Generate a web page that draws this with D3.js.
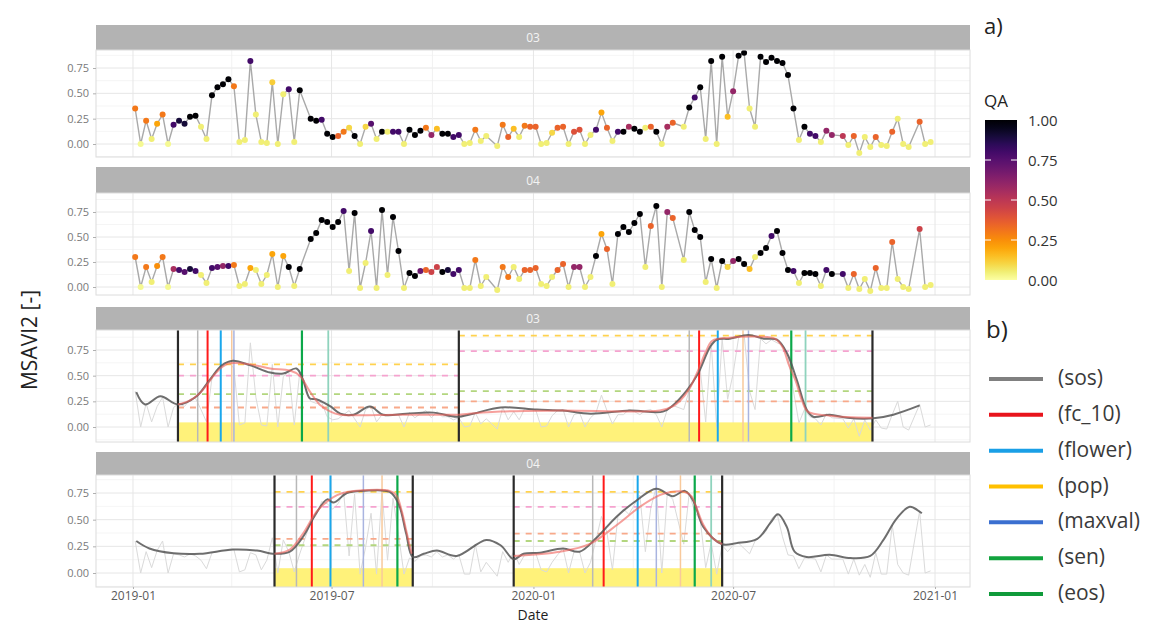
<!DOCTYPE html>
<html>
<head>
<meta charset="utf-8">
<script src="https://cdn.jsdelivr.net/npm/d3@7"></script>
<style>
  body { margin: 0; background: #fff; }
  svg { display: block; font-family: "Open Sans", "DejaVu Sans", sans-serif; }
</style>
</head>
<body>
<svg id="chart" width="1168" height="624"></svg>
<script>
var DAY = 864e5, T0 = Date.UTC(2019, 0, 1);
function day(n) { return new Date(T0 + n * DAY); }

// Sentinel-2 scenes, one slot every 5 days from 2019-01-03 (null = no scene)
var firstObsDay = 2, obsStep = 5;

var msavi03 = [0.35,0.00,0.23,0.05,0.20,0.29,0.00,0.19,0.23,0.20,0.27,0.28,0.17,0.05,0.48,0.56,0.59,0.64,0.57,0.02,
  0.04,0.82,0.29,0.02,0.01,0.61,0.00,0.49,0.54,0.02,0.53,null,0.25,0.23,0.24,0.10,0.07,0.08,0.12,0.16,
  0.08,0.00,0.17,0.20,0.05,0.12,0.12,0.12,0.12,0.00,0.14,0.09,0.13,0.16,0.09,0.15,0.10,0.10,0.07,0.09,
  0.00,0.01,0.14,0.03,0.08,null,-0.02,0.19,0.07,0.15,0.07,0.18,0.17,0.17,0.00,0.01,0.11,0.16,0.17,0.00,
  0.12,0.14,0.00,0.09,0.14,0.31,0.16,0.03,0.12,0.12,0.17,0.15,0.12,0.16,0.17,0.12,0.00,0.17,0.21,null,
  0.17,0.36,0.46,0.56,0.05,0.82,0.00,0.86,0.27,0.52,0.87,0.90,0.35,0.17,0.86,0.81,0.85,0.82,0.80,0.68,
  0.35,0.04,0.17,0.10,0.08,0.02,0.13,0.09,null,0.08,-0.01,0.08,-0.09,0.07,-0.03,0.07,-0.01,-0.02,0.12,0.25,
  0.00,-0.03,null,0.22,0.00,0.02];
var qa03 = [.3,.02,.3,.05,.2,.3,.02,.8,.9,.9,1,1,.05,.05,1,1,1,1,.3,.05,
  .05,.8,.05,.05,.05,.12,.05,.05,.8,.05,1,null,1,1,.8,1,1,.35,.3,.1,
  1,.05,.1,.75,.05,1,.05,.8,.8,.05,1,1,1,.3,.6,.15,1,1,.8,.8,
  .05,.05,.3,.05,.05,null,.05,.3,.35,.15,.05,.3,.35,.35,.05,.05,.1,.35,.35,.05,
  .4,.4,.05,.05,.8,.2,.35,.05,.8,1,.55,1,1,.05,.35,1,.05,.55,.35,null,
  .05,1,.8,1,.05,1,.05,1,.15,.6,1,1,.05,.05,1,1,1,1,1,1,
  1,.05,1,.8,.8,.05,.6,.6,null,.5,.05,.35,.05,.05,.05,.35,.05,.05,.35,.05,
  .05,.05,null,.35,.05,.05];

var msavi04 = [0.30,0.00,0.20,0.05,0.21,0.30,0.00,0.18,0.17,0.15,0.18,0.16,0.12,0.04,0.19,0.20,0.21,0.21,0.22,0.01,
  0.03,0.19,0.17,0.03,0.12,0.33,0.00,0.31,0.20,0.01,0.18,null,0.48,0.54,0.67,0.65,0.60,0.65,0.76,0.16,
  0.74,-0.01,0.24,0.56,-0.01,0.77,0.12,0.70,0.36,-0.01,0.14,0.11,0.16,0.17,0.15,0.20,0.15,0.17,0.13,0.17,
  -0.01,-0.01,0.27,0.01,0.10,null,-0.03,0.20,0.10,0.20,0.08,0.17,0.17,0.19,0.03,0.01,0.10,0.17,0.23,0.00,
  0.20,0.20,0.00,0.10,0.31,0.53,0.38,0.03,0.53,0.60,0.55,0.64,0.73,0.20,0.61,0.81,0.00,0.75,0.69,null,
  0.27,0.75,0.57,0.50,0.05,0.28,-0.01,0.26,0.20,0.26,0.28,0.23,0.18,0.30,0.34,0.39,0.51,0.56,0.34,0.17,
  0.16,0.04,0.14,0.14,0.13,0.01,0.17,0.13,null,0.13,-0.01,0.13,-0.02,0.08,-0.04,0.19,-0.01,-0.01,0.45,0.08,
  0.00,-0.02,null,0.58,0.00,0.02];
var qa04 = [.3,.02,.3,.05,.25,.3,.02,.55,.8,.75,.9,.8,.05,.05,.8,.75,.6,.8,.3,.05,
  .05,.2,.05,.05,.05,.2,.05,.2,1,.05,1,null,1,1,1,1,1,1,.8,.05,
  1,.05,.05,.8,.05,1,.05,1,1,.05,1,1,.7,.35,.45,.45,1,.9,.8,.8,
  .05,.05,.3,.05,.05,null,.05,.3,.3,.05,.05,.35,.35,.35,.05,.05,.05,.35,.35,.05,
  .6,.6,.05,.05,1,.2,.35,.05,1,1,1,1,1,.05,.35,1,.05,.6,.35,null,
  .05,1,1,1,.05,1,.05,1,.1,.6,1,1,.15,.05,1,1,.8,1,1,1,
  .8,.05,1,1,1,.05,.8,1,null,.8,.05,.35,.05,.05,.05,.35,.05,.05,.35,.05,
  .05,.05,null,.45,.05,.05];

// smoothed series and double-logistic fits, [day since 2019-01-01, value]
var smooth03 = [[3,.34],[11,.22],[25,.30],[41,.22],[58,.30],[70,.46],[81,.60],[91,.645],[107,.60],[125,.53],[137,.52],
  [149,.57],[155,.46],[161,.28],[167,.27],[180,.20],[189,.13],[201,.12],[216,.20],[228,.12],[249,.13],[274,.14],
  [295,.10],[310,.13],[335,.19],[368,.17],[392,.16],[417,.13],[453,.16],[483,.15],[492,.21],[505,.36],[515,.52],
  [526,.78],[532,.85],[544,.86],[561,.895],[575,.86],[587,.85],[596,.72],[605,.46],[614,.17],[620,.10],[635,.12],
  [651,.09],[675,.085],[693,.12],[717,.21]];
var smooth04 = [[3,.30],[15,.23],[37,.185],[61,.18],[91,.22],[113,.21],[129,.18],[143,.20],[155,.34],[167,.56],
  [177,.69],[183,.66],[195,.75],[210,.77],[234,.76],[242,.65],[249,.37],[255,.15],[265,.18],[277,.21],[295,.16],
  [322,.31],[335,.26],[347,.13],[356,.18],[371,.19],[392,.23],[407,.20],[422,.325],[441,.53],[459,.68],[477,.79],
  [492,.72],[503,.77],[511,.67],[520,.43],[537,.27],[550,.28],[569,.32],[581,.47],[588,.55],[596,.43],[603,.20],
  [614,.15],[635,.17],[654,.14],[672,.16],[684,.31],[696,.51],[708,.62],[719,.56]];
var fit03 = [
  [[41,.22],[52,.26],[61,.33],[68,.42],[75,.52],[82,.59],[88,.62],[107,.61],[125,.57],[143,.55],[152,.50],[161,.35],
   [170,.22],[180,.15],[189,.12],[243,.12],[297,.12]],
  [[297,.12],[335,.15],[389,.16],[480,.16],[492,.20],[499,.26],[507,.37],[515,.55],[522,.73],[528,.84],[544,.87],
   [572,.88],[585,.86],[592,.78],[598,.60],[604,.45],[610,.25],[615,.15],[635,.11],[674,.09]]
];
var fit04 = [
  [[129,.18],[143,.22],[155,.37],[167,.57],[177,.67],[186,.73],[195,.76],[234,.77],[240,.73],[245,.58],[249,.40],[254,.18]],
  [[347,.16],[389,.20],[416,.27],[441,.45],[462,.62],[480,.73],[490,.76],[503,.76],[509,.72],[514,.60],[520,.45],
   [528,.33],[537,.27]]
];

// season extents and phenology dates (days since 2019-01-01)
var seasons03 = [[41, 297], [297, 674]];
var seasons04 = [[129, 255], [347, 537]];
var pheno03 = [["bound",41],["sos",59],["fc_10",68],["flower",80],["pop",90],["maxval",92],["sen",154],["eos",178],["bound",297],
  ["sos",507],["fc_10",516],["flower",533],["pop",556],["maxval",561],["sen",600],["eos",613],["bound",674]];
var pheno04 = [["bound",129],["sos",149],["fc_10",163],["flower",180],["maxval",210],["pop",227],["sen",241],["bound",255],
  ["bound",347],["sos",419],["fc_10",429],["flower",460],["maxval",477],["pop",499],["sen",512],["eos",527],["bound",537]];
// threshold levels per season: [start, end, value, kind]
var levels03 = [[41,297,.61,"max"],[41,297,.50,"q"],[41,297,.32,"sosT"],[41,297,.19,"eosT"],
  [297,674,.89,"max"],[297,674,.74,"q"],[297,674,.35,"sosT"],[297,674,.25,"eosT"]];
var levels04 = [[129,255,.76,"max"],[129,255,.62,"q"],[129,255,.32,"eosT"],[129,255,.26,"sosT"],
  [347,537,.76,"max"],[347,537,.62,"q"],[347,537,.37,"eosT"],[347,537,.30,"sosT"]];

var yTicks = [0, 0.25, 0.5, 0.75];
var xTicks = ["2019-01-01","2019-07-01","2020-01-01","2020-07-01","2021-01-01"];
var xMinor = ["2019-04-01","2019-10-01","2020-04-01","2020-10-01"];
var legendKeys = ["sos","fc_10","flower","pop","maxval","sen","eos"];
var legendColors = ["#808080","#e8141c","#1a9fe6","#ffc000","#3b6fd0","#12a33e","#0f9a3a"];
var qaTicks = [0, 0.25, 0.5, 0.75, 1];

var metricStyle = {
  bound: ["#2a2a2a", 2.2], sos: ["#b8b8b8", 1.5], fc_10: ["#ff1a1a", 2], flower: ["#1aa7ec", 2],
  pop: ["#f8c99b", 1.5], maxval: ["#a9b4e0", 1.5], sen: ["#0ca84a", 2.2], eos: ["#8fd3bd", 1.8]
};
var levelColor = { max: "#ffd24f", q: "#f5a3cf", sosT: "#b3d67f", eosT: "#f8a98a" };

var svg = d3.select("#chart");
var left = 96, right = 970;
var x = d3.scaleUtc().domain([day(-33.7), day(762.9)]).range([left, right]);
var qaColor = function (q) { return d3.interpolateInferno(1 - q); };

var obs = function (vals, qas) {
  var out = [];
  vals.forEach(function (v, i) {
    if (v !== null) out.push({ date: day(firstObsDay + obsStep * i), v: v, qa: qas ? qas[i] : null });
  });
  return out;
};

var panels = [
  { id: "03", stripTop: 25, top: 50, bottom: 157, y0: 144, y75: 68, kind: "raw", vals: msavi03, qa: qa03 },
  { id: "04", stripTop: 167, top: 193, bottom: 295, y0: 287, y75: 212, kind: "raw", vals: msavi04, qa: qa04 },
  { id: "03", stripTop: 307, top: 330, bottom: 442, y0: 427, y75: 350, kind: "pheno", vals: msavi03,
    smooth: smooth03, fit: fit03, seasons: seasons03, pheno: pheno03, levels: levels03 },
  { id: "04", stripTop: 452, top: 475, bottom: 587, y0: 573, y75: 493, kind: "pheno", vals: msavi04,
    smooth: smooth04, fit: fit04, seasons: seasons04, pheno: pheno04, levels: levels04 }
];

panels.forEach(function (p, pi) {
  var y = d3.scaleLinear().domain([0, 0.75]).range([p.y0, p.y75]);
  var g = svg.append("g");
  var clipId = "clip" + pi;
  svg.append("clipPath").attr("id", clipId).append("rect")
    .attr("x", left).attr("y", p.top).attr("width", right - left).attr("height", p.bottom - p.top);

  // strip
  g.append("rect").attr("x", left).attr("y", p.stripTop).attr("width", right - left)
    .attr("height", p.top - p.stripTop).attr("fill", "#b3b3b3");
  g.append("text").attr("x", (left + right) / 2).attr("y", (p.stripTop + p.top) / 2)
    .attr("dominant-baseline", "central").attr("text-anchor", "middle")
    .attr("fill", "#f4f4f4").attr("font-size", 12).text(p.id);

  // grid
  var grid = g.append("g").attr("clip-path", "url(#" + clipId + ")");
  var minorY = [-0.125, 0.125, 0.375, 0.625, 0.875];
  grid.selectAll(".hmin").data(minorY).enter().append("line")
    .attr("x1", left).attr("x2", right).attr("y1", y).attr("y2", y)
    .attr("stroke", "#f2f2f2").attr("stroke-width", 0.8);
  grid.selectAll(".hmaj").data(yTicks).enter().append("line")
    .attr("x1", left).attr("x2", right).attr("y1", y).attr("y2", y)
    .attr("stroke", "#e6e6e6").attr("stroke-width", 1);
  grid.selectAll(".vmin").data(xMinor).enter().append("line")
    .attr("x1", function (d) { return x(new Date(d)); }).attr("x2", function (d) { return x(new Date(d)); })
    .attr("y1", p.top).attr("y2", p.bottom).attr("stroke", "#efefef").attr("stroke-width", 0.8);
  grid.selectAll(".vmaj").data(xTicks).enter().append("line")
    .attr("x1", function (d) { return x(new Date(d)); }).attr("x2", function (d) { return x(new Date(d)); })
    .attr("y1", p.top).attr("y2", p.bottom).attr("stroke", "#e6e6e6").attr("stroke-width", 1);

  var data = obs(p.vals, p.qa);
  var line = d3.line().x(function (d) { return x(d.date); }).y(function (d) { return y(d.v); });
  var plot = g.append("g").attr("clip-path", "url(#" + clipId + ")");

  if (p.kind === "raw") {
    plot.append("path").datum(data).attr("d", line).attr("fill", "none")
      .attr("stroke", "#a9a9a9").attr("stroke-width", 1.4);
    plot.selectAll("circle").data(data).enter().append("circle")
      .attr("cx", function (d) { return x(d.date); }).attr("cy", function (d) { return y(d.v); })
      .attr("r", 3).attr("fill", function (d) { return qaColor(d.qa); });
  } else {
    var yellowTop = y(0.045);
    plot.selectAll(".season").data(p.seasons).enter().append("rect")
      .attr("x", function (d) { return x(day(d[0])); }).attr("y", yellowTop)
      .attr("width", function (d) { return x(day(d[1])) - x(day(d[0])); })
      .attr("height", p.bottom - yellowTop).attr("fill", "#fff27a");
    plot.append("path").datum(data).attr("d", line).attr("fill", "none")
      .attr("stroke", "#dadada").attr("stroke-width", 1);
    plot.selectAll(".level").data(p.levels).enter().append("line")
      .attr("x1", function (d) { return x(day(d[0])); }).attr("x2", function (d) { return x(day(d[1])); })
      .attr("y1", function (d) { return y(d[2]); }).attr("y2", function (d) { return y(d[2]); })
      .attr("stroke", function (d) { return levelColor[d[3]]; }).attr("stroke-width", 1.8)
      .attr("stroke-dasharray", "6,6");
    plot.selectAll(".pheno").data(p.pheno).enter().append("line")
      .attr("x1", function (d) { return x(day(d[1])); }).attr("x2", function (d) { return x(day(d[1])); })
      .attr("y1", p.top).attr("y2", p.bottom)
      .attr("stroke", function (d) { return metricStyle[d[0]][0]; })
      .attr("stroke-width", function (d) { return metricStyle[d[0]][1]; });
    var curve = d3.line().x(function (d) { return x(day(d[0])); }).y(function (d) { return y(d[1]); })
      .curve(d3.curveCatmullRom.alpha(0.5));
    plot.append("path").datum(p.smooth).attr("d", curve).attr("fill", "none")
      .attr("stroke", "#555").attr("stroke-width", 2).attr("stroke-opacity", 0.85);
    plot.selectAll(".fit").data(p.fit).enter().append("path").attr("d", curve).attr("fill", "none")
      .attr("stroke", "#f0605a").attr("stroke-width", 2).attr("stroke-opacity", 0.6);
  }

  // border
  g.append("rect").attr("x", left).attr("y", p.top).attr("width", right - left).attr("height", p.bottom - p.top)
    .attr("fill", "none").attr("stroke", "#dcdcdc").attr("stroke-width", 1);

  // y axis
  var ya = g.append("g").attr("transform", "translate(" + left + ",0)")
    .call(d3.axisLeft(y).tickValues(yTicks).tickFormat(d3.format(".2f")).tickSize(3).tickPadding(4));
  ya.select(".domain").remove();
  ya.selectAll("line").attr("stroke", "#b0b0b0");
  ya.selectAll("text").attr("fill", "#7a7a7a").attr("font-size", 11).attr("font-family", "Open Sans, sans-serif");

  if (pi === panels.length - 1) {
    var xa = g.append("g").attr("transform", "translate(0," + p.bottom + ")")
      .call(d3.axisBottom(x).tickValues(xTicks.map(function (d) { return new Date(d); }))
        .tickFormat(d3.utcFormat("%Y-%m")).tickSize(2).tickPadding(2));
    xa.select(".domain").remove();
    xa.selectAll("line").attr("stroke", "#b0b0b0");
    xa.selectAll("text").attr("fill", "#5a5a5a").attr("font-size", 12).attr("font-family", "Open Sans, sans-serif");
  }
});

// axis titles
svg.append("text").attr("x", 533).attr("y", 620).attr("text-anchor", "middle")
  .attr("font-size", 14).attr("fill", "#1e1e1e").text("Date");
svg.append("text").attr("transform", "translate(37,340) rotate(-90)").attr("text-anchor", "middle")
  .attr("font-size", 21).attr("fill", "#222").text("MSAVI2 [-]");

// a) QA colour bar
svg.append("text").attr("x", 984).attr("y", 34).attr("font-size", 22).attr("fill", "#222").text("a)");
svg.append("text").attr("x", 984).attr("y", 107).attr("font-size", 17).attr("fill", "#222").text("QA");
var qaScale = d3.scaleLinear().domain([0, 1]).range([280, 120]);
var grad = svg.append("defs").append("linearGradient").attr("id", "qaGrad")
  .attr("x1", 0).attr("x2", 0).attr("y1", 1).attr("y2", 0);
d3.range(0, 1.0001, 0.05).forEach(function (t) {
  grad.append("stop").attr("offset", t).attr("stop-color", qaColor(t));
});
svg.append("rect").attr("x", 985).attr("y", 120).attr("width", 32).attr("height", 160).attr("fill", "url(#qaGrad)");
var cb = svg.append("g");
cb.selectAll(".tl").data(qaTicks.slice(1, 4)).enter().append("line")
  .attr("x1", 985).attr("x2", 991).attr("y1", qaScale).attr("y2", qaScale).attr("stroke", "#fff").attr("stroke-width", 1);
cb.selectAll(".tr").data(qaTicks.slice(1, 4)).enter().append("line")
  .attr("x1", 1011).attr("x2", 1017).attr("y1", qaScale).attr("y2", qaScale).attr("stroke", "#fff").attr("stroke-width", 1);
cb.selectAll("text").data(qaTicks).enter().append("text")
  .attr("x", 1028).attr("y", qaScale).attr("dominant-baseline", "central")
  .attr("font-size", 15).attr("fill", "#333").text(d3.format(".2f"));

// b) phenology legend
svg.append("text").attr("x", 986).attr("y", 338).attr("font-size", 24).attr("fill", "#222").text("b)");
var rowY = d3.scalePoint().domain(legendKeys).range([377, 592]);
var lg = svg.append("g");
lg.selectAll("line").data(legendKeys).enter().append("line")
  .attr("x1", 989).attr("x2", 1043).attr("y1", function (d) { return rowY(d) + 2; }).attr("y2", function (d) { return rowY(d) + 2; })
  .attr("stroke", function (d, i) { return legendColors[i]; }).attr("stroke-width", 4);
lg.selectAll("text").data(legendKeys).enter().append("text")
  .attr("x", 1058).attr("y", function (d) { return rowY(d); }).attr("dominant-baseline", "central")
  .attr("font-size", 21).attr("fill", "#3a3a3a").text(function (d) { return "(" + d + ")"; });
</script>
</body>
</html>
